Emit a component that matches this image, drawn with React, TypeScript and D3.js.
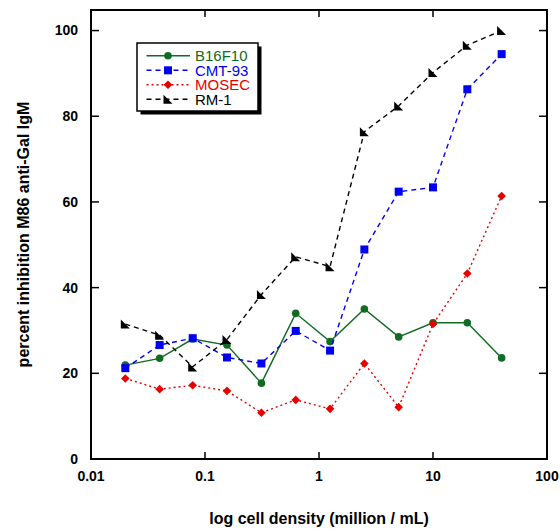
import React from 'react'
import * as d3 from 'd3'

// cell densities (million / mL)
const densities = [0.02, 0.04, 0.078, 0.156, 0.3125, 0.625, 1.25, 2.5, 5, 10, 20, 40]

const b16f10 = [21.9, 23.5, 28.0, 26.6, 17.7, 34.0, 27.4, 35.0, 28.5, 31.8, 31.8, 23.6]
const cmt93 = [21.2, 26.6, 28.2, 23.7, 22.3, 29.9, 25.3, 48.9, 62.4, 63.4, 86.3, 94.5]
const mosec = [18.8, 16.3, 17.2, 15.9, 10.8, 13.8, 11.7, 22.3, 12.1, 31.5, 43.3, 61.4]
const rm1 = [31.5, 28.9, 21.5, 27.9, 38.4, 47.2, 44.9, 76.4, 82.4, 90.2, 96.6, 100.0]

const xTicks = [0.01, 0.1, 1, 10, 100]
const xTickLabels = ['0.01', '0.1', '1', '10', '100']
const yTicks = [0, 20, 40, 60, 80, 100]

const W = 560
const H = 531
const left = 91, right = 547, top = 10, bottom = 459
const font = "'Liberation Sans', Arial, Helvetica, sans-serif"

const x = d3.scaleLog().domain([0.01, 100]).range([left, right])
const y = d3.scaleLinear().domain([0, 104.8]).range([bottom, top])

const series = [
  { name: 'B16F10', values: b16f10, color: '#116b22', dash: '', marker: 'circle' },
  { name: 'CMT-93', values: cmt93, color: '#0000f0', dash: '5,4', marker: 'square' },
  { name: 'MOSEC', values: mosec, color: '#e60000', dash: '2,3', marker: 'diamond' },
  { name: 'RM-1', values: rm1, color: '#000000', dash: '5,4', marker: 'triangle' },
]

function Marker({ type, cx, cy, color }: { type: string, cx: number, cy: number, color: string }) {
  if (type === 'circle') return <circle cx={cx} cy={cy} r={3.8} fill={color} />
  if (type === 'square') return <rect x={cx - 4} y={cy - 4} width={8} height={8} fill={color} />
  if (type === 'diamond')
    return <path d={`M${cx},${cy - 4.3}L${cx + 4.3},${cy}L${cx},${cy + 4.3}L${cx - 4.3},${cy}Z`} fill={color} />
  return <path d={`M${cx - 4.5},${cy - 4.5}L${cx - 4.5},${cy + 4.5}L${cx + 4.5},${cy + 4.5}Z`} fill={color} />
}

export default function App() {
  const line = d3.line<number>()
    .x((d, i) => x(densities[i]))
    .y(d => y(d))

  const lgX = 137, lgY = 43, lgW = 121, lgH = 68

  return (
    <div style={{ position: 'absolute', left: 0, top: 0 }}>
      <svg width={W} height={H} style={{ display: 'block', background: '#fff' }} fontFamily={font}>
        {/* data */}
        {series.map(s => (
          <g key={s.name}>
            <path d={line(s.values) || ''} fill="none" stroke={s.color} strokeWidth={1.4}
              strokeDasharray={s.dash || undefined} />
            {s.values.map((v, i) => (
              <Marker key={i} type={s.marker} cx={x(densities[i])} cy={y(v)} color={s.color} />
            ))}
          </g>
        ))}

        {/* frame and ticks */}
        <rect x={left} y={top} width={right - left} height={bottom - top} fill="none" stroke="#000" strokeWidth={2} />
        {xTicks.map(t => (
          <g key={'x' + t}>
            <line x1={x(t)} x2={x(t)} y1={bottom} y2={bottom - 7} stroke="#000" strokeWidth={1.5} />
            <line x1={x(t)} x2={x(t)} y1={top} y2={top + 7} stroke="#000" strokeWidth={1.5} />
          </g>
        ))}
        {xTicks.map((t, i) => (
          <text key={'xl' + t} x={x(t)} y={481} textAnchor="middle" fontSize={14} fontWeight="bold">{xTickLabels[i]}</text>
        ))}
        {yTicks.map(t => (
          <g key={'y' + t}>
            <line x1={left} x2={left + 8} y1={y(t)} y2={y(t)} stroke="#000" strokeWidth={1.5} />
            <line x1={right} x2={right - 8} y1={y(t)} y2={y(t)} stroke="#000" strokeWidth={1.5} />
            <text x={78} y={y(t)} dy="0.35em" textAnchor="end" fontSize={14} fontWeight="bold">{t}</text>
          </g>
        ))}

        {/* axis titles */}
        <text x={(left + right) / 2} y={524} textAnchor="middle" fontSize={16} fontWeight="bold">
          log cell density (million / mL)
        </text>
        <text transform={`translate(23,${(top + bottom) / 2}) rotate(-90)`} dy="0.35em" textAnchor="middle"
          fontSize={16} fontWeight="bold">
          percent inhibition M86 anti-Gal IgM
        </text>

        {/* legend */}
        <rect x={lgX + 3.5} y={lgY + 3.5} width={lgW} height={lgH} fill="#000" />
        <rect x={lgX} y={lgY} width={lgW} height={lgH} fill="#fff" stroke="#000" strokeWidth={1.5} />
        {series.map((s, i) => {
          const ry = lgY + 12.8 + i * 14.5
          return (
            <g key={'lg' + s.name}>
              <line x1={lgX + 9.5} x2={lgX + 53} y1={ry} y2={ry} stroke={s.color} strokeWidth={1.4}
                strokeDasharray={s.dash || undefined} />
              <Marker type={s.marker} cx={lgX + 31} cy={ry} color={s.color} />
              <text x={lgX + 58} y={ry} dy="0.36em" fontSize={15} fill={s.color}>{s.name}</text>
            </g>
          )
        })}
      </svg>
    </div>
  )
}
